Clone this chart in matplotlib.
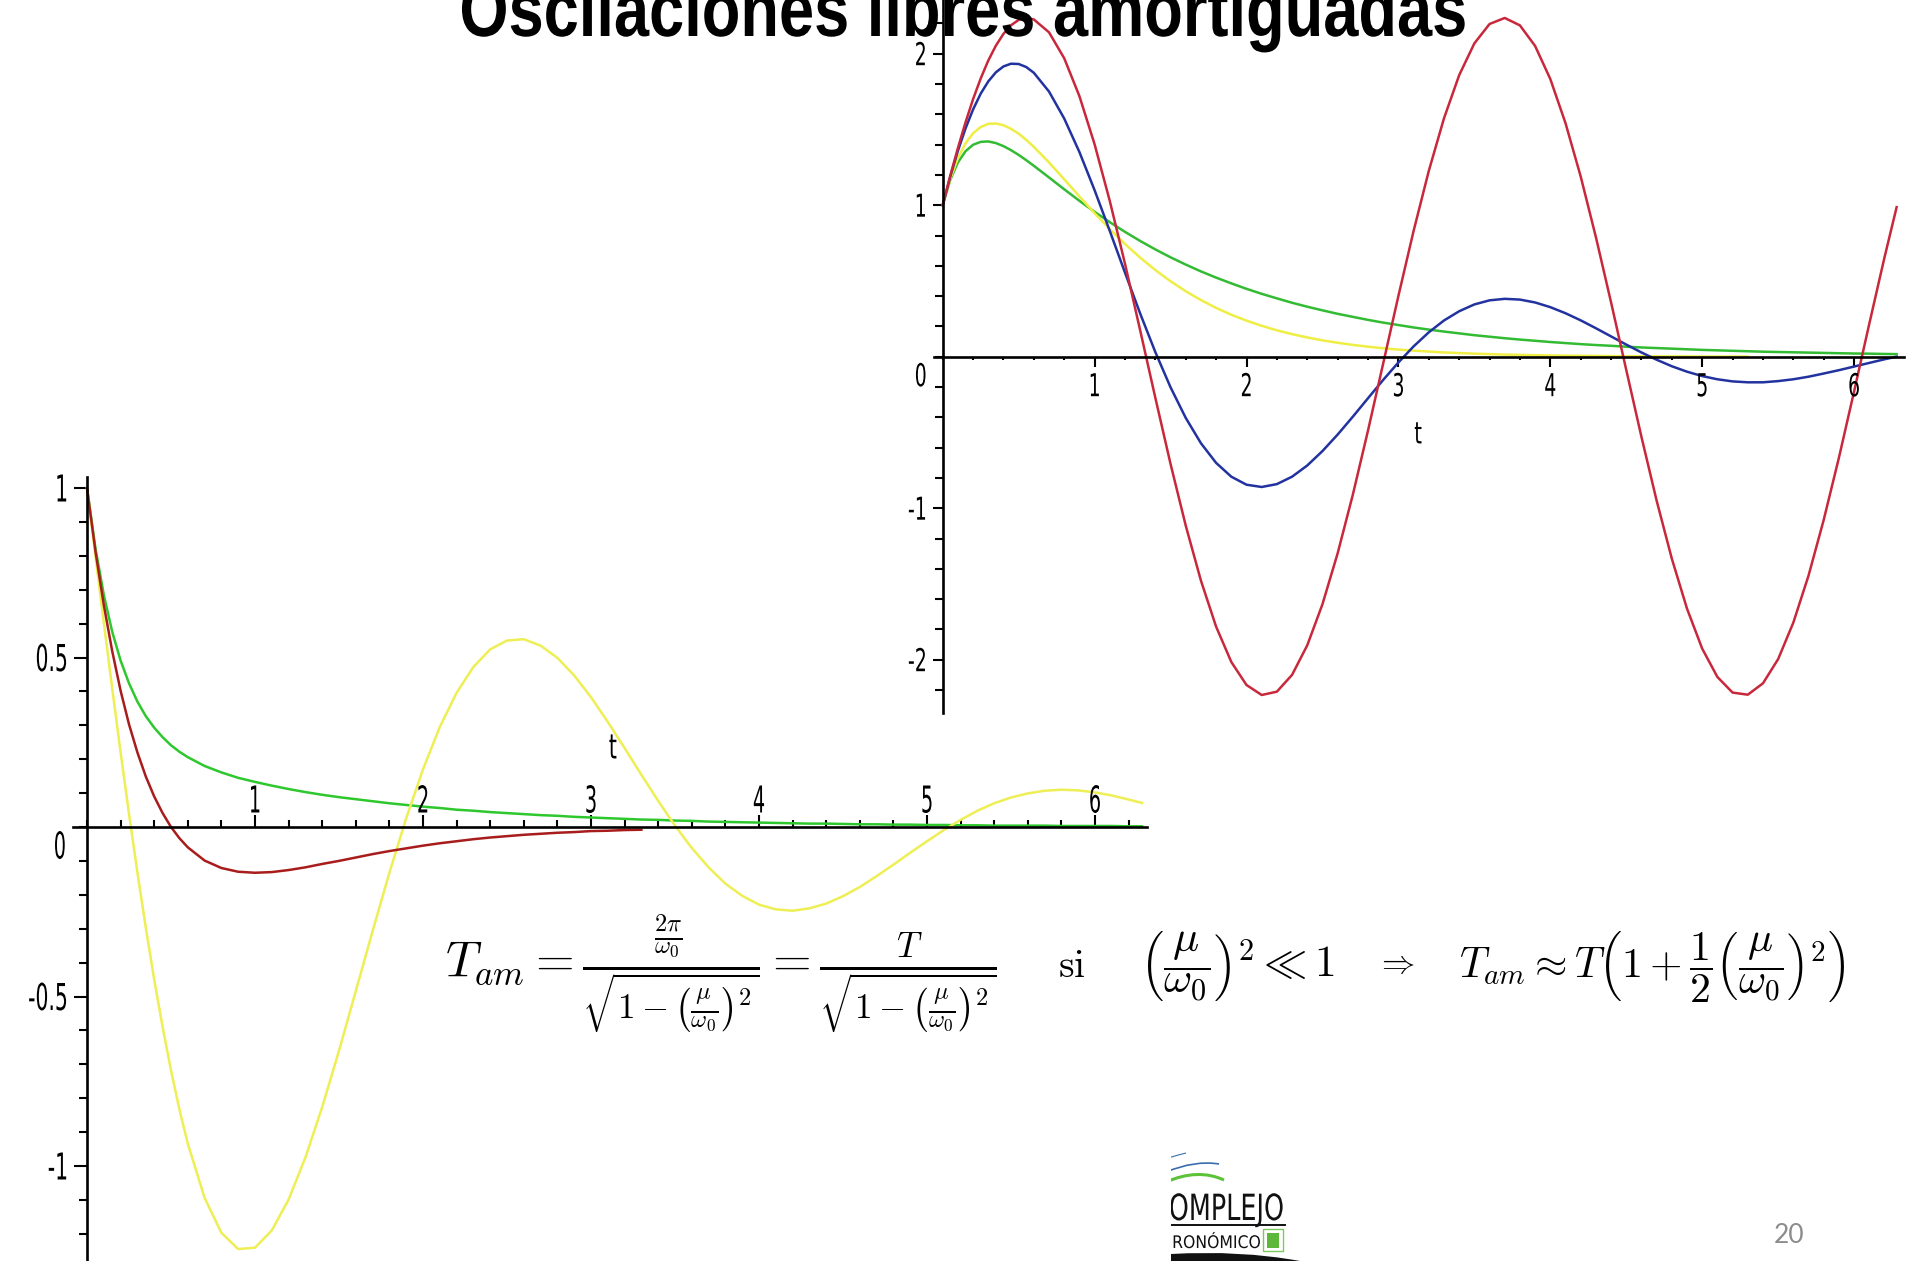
import matplotlib.pyplot as plt
from matplotlib.ticker import MultipleLocator
from matplotlib.patches import PathPatch, Rectangle
from matplotlib.path import Path
from matplotlib import patheffects
import matplotlib.transforms as mtransforms

plt.rcParams['mathtext.fontset'] = 'cm'

# time samples shared by every curve (last one is 2*pi)
t_vals = [0.0, 0.05, 0.1, 0.15, 0.2, 0.25, 0.3, 0.35, 0.4, 0.45, 0.5, 0.55, 0.6, 0.7,
          0.8, 0.9, 1.0, 1.1, 1.2, 1.3, 1.4, 1.5, 1.6, 1.7, 1.8, 1.9, 2.0, 2.1,
          2.2, 2.3, 2.4, 2.5, 2.6, 2.7, 2.8, 2.9, 3.0, 3.1, 3.2, 3.3, 3.4, 3.5,
          3.6, 3.7, 3.8, 3.9, 4.0, 4.1, 4.2, 4.3, 4.4, 4.5, 4.6, 4.7, 4.8, 4.9,
          5.0, 5.1, 5.2, 5.3, 5.4, 5.5, 5.6, 5.7, 5.8, 5.9, 6.0, 6.1, 6.2, 6.28]

# upper plot, x(0)=1, x'(0)=4
red_top = [1.000, 1.195, 1.377, 1.546, 1.700, 1.836, 1.955, 2.053, 2.131, 2.188, 2.223, 2.236, 2.226, 2.141,
           1.970, 1.720, 1.402, 1.028, 0.614, 0.174, -0.272, -0.708, -1.115, -1.478, -1.782, -2.015, -2.167, -2.233,
           -2.211, -2.100, -1.905, -1.634, -1.298, -0.911, -0.487, -0.044, 0.401, 0.830, 1.226, 1.573, 1.858, 2.068,
           2.196, 2.236, 2.187, 2.051, 1.833, 1.542, 1.190, 0.790, 0.359, -0.087, -0.529, -0.950, -1.333, -1.663,
           -1.927, -2.114, -2.217, -2.231, -2.156, -1.996, -1.755, -1.445, -1.077, -0.667, -0.229, 0.217, 0.655, 0.987]
blue_top = [1.000, 1.190, 1.359, 1.506, 1.632, 1.736, 1.817, 1.877, 1.916, 1.934, 1.932, 1.912, 1.874, 1.750,
            1.572, 1.351, 1.099, 0.830, 0.555, 0.285, 0.030, -0.202, -0.404, -0.571, -0.701, -0.792, -0.845, -0.860,
            -0.841, -0.792, -0.718, -0.623, -0.514, -0.396, -0.274, -0.153, -0.038, 0.068, 0.161, 0.239, 0.300, 0.345,
            0.372, 0.382, 0.377, 0.358, 0.327, 0.287, 0.240, 0.188, 0.134, 0.080, 0.028, -0.020, -0.063, -0.099,
            -0.128, -0.149, -0.163, -0.169, -0.169, -0.161, -0.149, -0.132, -0.111, -0.089, -0.065, -0.041, -0.017, 0.000]
yellow_top = [1.000, 1.176, 1.310, 1.408, 1.475, 1.516, 1.537, 1.539, 1.528, 1.504, 1.472, 1.431, 1.385, 1.282,
              1.171, 1.058, 0.947, 0.842, 0.744, 0.654, 0.572, 0.498, 0.432, 0.374, 0.322, 0.277, 0.238, 0.204,
              0.174, 0.149, 0.127, 0.108, 0.092, 0.078, 0.066, 0.056, 0.047, 0.040, 0.034, 0.028, 0.024, 0.020,
              0.017, 0.014, 0.012, 0.010, 0.008, 0.007, 0.006, 0.005, 0.004, 0.003, 0.003, 0.002, 0.002, 0.002,
              0.001, 0.001, 0.001, 0.001]
green_top = [1.000, 1.168, 1.282, 1.356, 1.399, 1.418, 1.421, 1.410, 1.390, 1.363, 1.332, 1.297, 1.260, 1.183,
             1.105, 1.029, 0.956, 0.888, 0.824, 0.764, 0.708, 0.656, 0.608, 0.563, 0.522, 0.484, 0.448, 0.415,
             0.385, 0.356, 0.330, 0.306, 0.283, 0.263, 0.243, 0.225, 0.209, 0.193, 0.179, 0.166, 0.154, 0.142,
             0.132, 0.122, 0.113, 0.105, 0.097, 0.090, 0.083, 0.077, 0.072, 0.066, 0.061, 0.057, 0.053, 0.049,
             0.045, 0.042, 0.039, 0.036, 0.033, 0.031, 0.029, 0.027, 0.025, 0.023, 0.021, 0.020, 0.018, 0.017]

# lower plot, x(0)=1, x'(0)=-4
yellow_bot = [1.000, 0.800, 0.603, 0.409, 0.220, 0.039, -0.134, -0.297, -0.450, -0.590, -0.718, -0.833, -0.934, -1.094,
              -1.197, -1.245, -1.241, -1.190, -1.099, -0.975, -0.826, -0.660, -0.484, -0.307, -0.135, 0.026, 0.170, 0.295,
              0.396, 0.472, 0.524, 0.550, 0.554, 0.535, 0.499, 0.447, 0.383, 0.310, 0.233, 0.154, 0.077, 0.004,
              -0.062, -0.119, -0.167, -0.203, -0.229, -0.243, -0.247, -0.240, -0.226, -0.204, -0.177, -0.145, -0.111, -0.076,
              -0.042, -0.009, 0.021, 0.048, 0.070, 0.087, 0.099, 0.107, 0.110, 0.108, 0.102, 0.093, 0.081, 0.071]
red_bot = [1.000, 0.814, 0.655, 0.519, 0.402, 0.303, 0.220, 0.149, 0.090, 0.041, 0.000, -0.033, -0.060, -0.099,
           -0.121, -0.132, -0.135, -0.133, -0.127, -0.119, -0.109, -0.100, -0.090, -0.080, -0.071, -0.063, -0.055, -0.048,
           -0.042, -0.036, -0.031, -0.027, -0.023, -0.020, -0.017, -0.015, -0.012, -0.011, -0.009, -0.008]
green_bot = [1.000, 0.823, 0.685, 0.576, 0.491, 0.424, 0.370, 0.327, 0.293, 0.265, 0.241, 0.222, 0.206, 0.180,
             0.161, 0.145, 0.133, 0.122, 0.112, 0.103, 0.095, 0.088, 0.082, 0.076, 0.070, 0.065, 0.060, 0.056,
             0.051, 0.048, 0.044, 0.041, 0.038, 0.035, 0.033, 0.030, 0.028, 0.026, 0.024, 0.022, 0.021, 0.019,
             0.018, 0.016, 0.015, 0.014, 0.013, 0.012, 0.011, 0.010, 0.010, 0.009, 0.008, 0.008, 0.007, 0.007,
             0.006, 0.006, 0.005, 0.005, 0.004, 0.004, 0.004, 0.004, 0.003, 0.003, 0.003, 0.003, 0.002, 0.002]

top_xticks = [1, 2, 3, 4, 5, 6]
top_yticks = [-2, -1, 1, 2]
bot_xticks = [1, 2, 3, 4, 5, 6]
bot_yticks = [-1, -0.5, 0.5, 1]
bot_ylabels = ['-1', '-0.5', '0.5', '1']

W, H = 1911, 1261
fig = plt.figure(figsize=(W / 100, H / 100), dpi=100)
fig.patch.set_facecolor('white')
renderer = fig.canvas.get_renderer()


class Stretch(patheffects.AbstractPathEffect):
    """Draw text taller than its font, keeping the baseline in place."""

    def __init__(self, sy):
        super().__init__()
        self.sy = sy

    def draw_path(self, renderer, gc, tpath, affine, rgbFace=None):
        by = affine.transform((0, 0))[1]
        st = mtransforms.Affine2D().translate(0, -by).scale(1, self.sy).translate(0, by)
        renderer.draw_path(gc, tpath, affine + st, rgbFace)


def tall_text(txt, width, fs_wide):
    # shrink the font until the text is `width` px wide, then stretch it back up
    w = txt.get_window_extent(renderer).width
    k = width / w
    txt.set_fontsize(fs_wide * k)
    txt.set_path_effects([Stretch(1 / k)])


def maple_axes(t0, sx, y0, sy, xlim, ylim):
    # t0, y0: pixel position of the origin, sx, sy: pixels per unit
    left = t0 + xlim[0] * sx
    right = t0 + xlim[1] * sx
    top = y0 - ylim[1] * sy
    bottom = y0 - ylim[0] * sy
    ax = fig.add_axes([left / W, 1 - bottom / H, (right - left) / W, (bottom - top) / H])
    ax.set_xlim(*xlim)
    ax.set_ylim(*ylim)
    ax.patch.set_visible(False)
    for s in ['top', 'right']:
        ax.spines[s].set_visible(False)
    for s in ['left', 'bottom']:
        ax.spines[s].set_position(('data', 0))
        ax.spines[s].set_linewidth(1.9)
    ax.tick_params(labelbottom=False, labelleft=False)
    return ax


def maple_label(ax, x, y, s, height, sx, ha='center', dx=0, dy=0):
    # height: digit height in px, sx: width squeeze, dx/dy: px offset of the glyph centre
    size = height * sx / 0.729 * 0.72
    ax.annotate(s, (x, y), xytext=(dx, dy - height / 2), textcoords='offset pixels',
                ha=ha, va='baseline', fontsize=size, family='DejaVu Sans',
                annotation_clip=False, path_effects=[Stretch(1 / sx)])


# upper plot
ax1 = maple_axes(942.7, 151.9, 356.7, 151.5, (-0.06, 6.33), (-2.35, 2.354))
ax1.set_xticks(top_xticks)
ax1.set_yticks(top_yticks)
ax1.xaxis.set_minor_locator(MultipleLocator(0.2))
ax1.yaxis.set_minor_locator(MultipleLocator(0.2))
ax1.tick_params(axis='x', which='major', direction='out', length=7, width=1.5)
ax1.tick_params(axis='x', which='minor', direction='out', length=2.5, width=1.5)
ax1.tick_params(axis='y', which='major', direction='out', length=7.5, width=1.5)
ax1.tick_params(axis='y', which='minor', direction='out', length=5.5, width=1.5)
ax1.plot(t_vals, green_top, color='#33BB33', lw=1.8)
ax1.plot(t_vals[:len(yellow_top)], yellow_top, color='#EEEE44', lw=1.8)
ax1.plot(t_vals, blue_top, color='#2233A0', lw=1.8)
ax1.plot(t_vals, red_top, color='#C8283C', lw=1.8)
for v in top_xticks:
    maple_label(ax1, v, 0, str(v), 23, 0.6, dy=-28)
for v in top_yticks:
    maple_label(ax1, 0, v, str(v), 23, 0.6, ha='right', dx=-16)
maple_label(ax1, 0, 0, '0', 23, 0.6, ha='right', dx=-16, dy=-18)
maple_label(ax1, 3.13, -0.50, 't', 22, 0.65)

# lower plot
ax2 = maple_axes(87, 168, 827, 339, (-0.085, 6.31), (-1.28, 1.032))
ax2.set_xticks(bot_xticks)
ax2.set_yticks(bot_yticks)
ax2.xaxis.set_minor_locator(MultipleLocator(0.2))
ax2.yaxis.set_minor_locator(MultipleLocator(0.1))
ax2.tick_params(axis='x', which='major', direction='in', length=9, width=1.5)
ax2.tick_params(axis='x', which='minor', direction='in', length=5, width=1.5)
ax2.tick_params(axis='y', which='major', direction='out', length=9.5, width=1.5)
ax2.tick_params(axis='y', which='minor', direction='out', length=6, width=1.5)
ax2.plot(t_vals, green_bot, color='#2EC82E', lw=1.8)
ax2.plot(t_vals, yellow_bot, color='#EEEE55', lw=1.8)
ax2.plot(t_vals[:len(red_bot)], red_bot, color='#A81C1C', lw=1.8)
for v in bot_xticks:
    maple_label(ax2, v, 0, str(v), 27, 0.52, dy=28)
for v, s in zip(bot_yticks, bot_ylabels):
    maple_label(ax2, 0, v, s, 27, 0.55, ha='right', dx=-19)
maple_label(ax2, 0, 0, '0', 27, 0.52, ha='right', dx=-21, dy=-18)
maple_label(ax2, 3.13, 0.239, 't', 25, 0.6)

# slide title, only its lower part fits on the page
title = fig.text(1466 / W, 1 - 36 / H, 'Oscilaciones libres amortiguadas', family='Liberation Sans',
                 weight='bold', fontsize=56, ha='right', va='baseline', zorder=10)
tall_text(title, 1007, 56)

# period formulas, each one scaled to its width
eq_a = (r'$T_{am}=\frac{\frac{2\pi}{\omega_0}}{\sqrt{1-\left(\frac{\mu}{\omega_0}\right)^2}}'
        r'=\frac{T}{\sqrt{1-\left(\frac{\mu}{\omega_0}\right)^2}}$')
eq_b = r'$\left(\dfrac{\mu}{\omega_0}\right)^2\ll 1$'
eq_c = r'$T_{am}\approx T\left(1+\dfrac{1}{2}\left(\dfrac{\mu}{\omega_0}\right)^2\right)$'
for s, x0, x1 in [(eq_a, 445, 990), (eq_b, 1140, 1335), (eq_c, 1459, 1846)]:
    txt = fig.text(x0 / W, 1 - 977 / H, s, fontsize=28, ha='left', va='baseline')
    txt.set_fontsize(28 * (x1 - x0) / txt.get_window_extent(renderer).width)
fig.text(1058 / W, 1 - 977 / H, r'$\mathrm{si}$', fontsize=28.5, ha='left', va='baseline')
fig.text(1396 / W, 1 - 963 / H, r'$\Rightarrow$', fontsize=24, ha='center', va='center')

# logo in the lower right corner, its left part hidden
axl = fig.add_axes([1171 / W, 0, 130 / W, 121 / H])
axl.set_xlim(1171, 1301)
axl.set_ylim(1261, 1140)
axl.axis('off')
blue_arc = Path([(1166, 1172), (1195, 1160), (1219, 1164)], [Path.MOVETO, Path.CURVE3, Path.CURVE3])
green_arc = Path([(1166, 1182), (1198, 1168), (1224, 1180)], [Path.MOVETO, Path.CURVE3, Path.CURVE3])
tick_arc = Path([(1168, 1158), (1178, 1155), (1186, 1153)], [Path.MOVETO, Path.CURVE3, Path.CURVE3])
axl.add_patch(PathPatch(blue_arc, fc='none', ec='#3A6DB0', lw=1.2))
axl.add_patch(PathPatch(tick_arc, fc='none', ec='#3A6DB0', lw=0.8))
axl.add_patch(PathPatch(green_arc, fc='none', ec='#5CC23A', lw=2.2))
logo_1 = axl.text(1284, 1220, 'COMPLEJO', family='DejaVu Sans', fontsize=26,
                  ha='right', va='baseline', color='#111111', clip_on=True)
tall_text(logo_1, 133, 26)
axl.plot([1171, 1285], [1225, 1225], color='#111111', lw=1.4)
logo_2 = axl.text(1260, 1248, 'AGRONÓMICO', family='DejaVu Sans', fontsize=12.5,
                  ha='right', va='baseline', color='#111111', clip_on=True)
tall_text(logo_2, 112, 12.5)
axl.add_patch(Rectangle((1263, 1229), 20, 22, fc='white', ec='#7CCB5A', lw=1.0))
axl.add_patch(Rectangle((1267, 1233), 12, 15, fc='#5DB83A', ec='none'))
swoosh = Path([(1171, 1254), (1240, 1250), (1300, 1261), (1171, 1261), (1171, 1254)],
              [Path.MOVETO, Path.CURVE3, Path.CURVE3, Path.LINETO, Path.CLOSEPOLY])
axl.add_patch(PathPatch(swoosh, fc='#111111', ec='none'))

fig.text(1789 / W, 1 - 1235.5 / H, '20', family='Lato', fontsize=19, color='#8C8C8C',
         ha='center', va='center')

fig.savefig('out.png', dpi=100)
